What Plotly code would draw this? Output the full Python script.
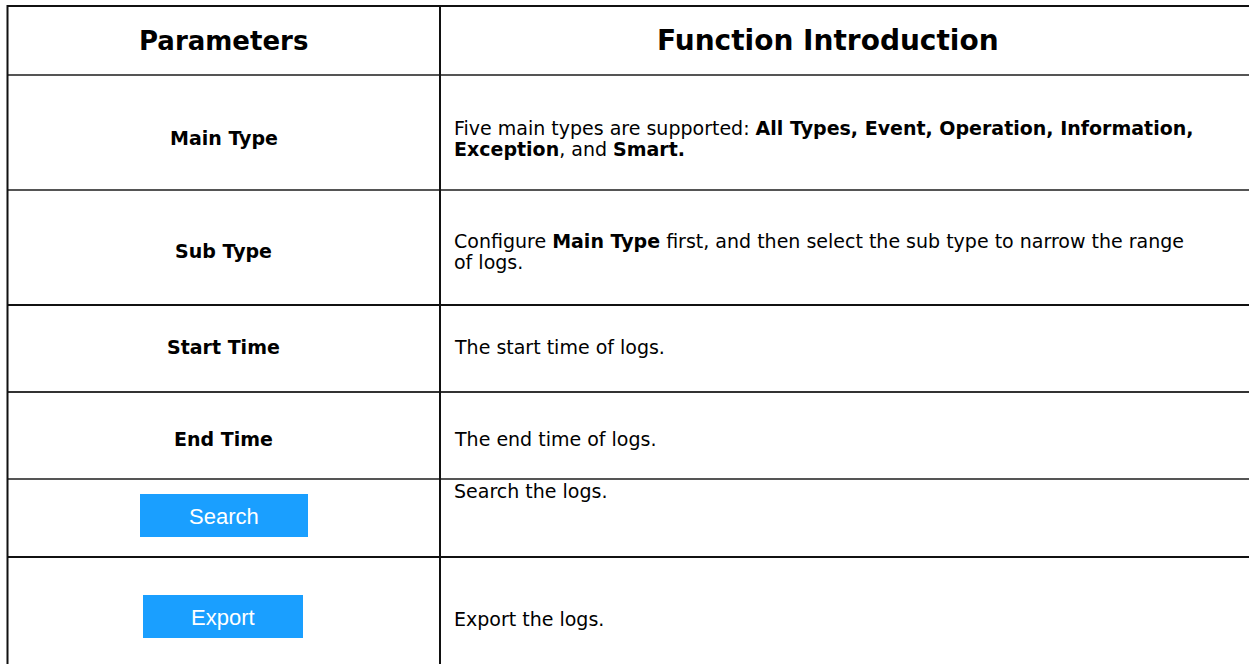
import plotly.graph_objects as go

# ---------------- data ----------------
headers = ["Parameters", "Function Introduction"]
params = ["Main Type", "Sub Type", "Start Time", "End Time", "Search", "Export"]
param_is_button = [False, False, False, False, True, True]
descriptions = [
    "Five main types are supported: <b>All Types, Event, Operation, Information,</b><br><b>Exception</b>, and <b>Smart.</b>",
    "Configure <b>Main Type</b> first, and then select the sub type to narrow the range<br>of logs.",
    "The start time of logs.",
    "The end time of logs.",
    "Search the logs.",
    "Export the logs.",
]

# ---------------- layout / style ----------------
W, H = 1249, 664
FONT = "DejaVu Sans, Verdana, sans-serif"
BTN_FONT = "Liberation Sans, Arial, sans-serif"
x_left, x_mid, x_right = 7.5, 440, 1260
row_lines = [6, 75, 190, 305, 392, 479, 557]
row_line_colors = ["#111", "#555", "#555", "#111", "#333", "#555", "#111"]
label_y = [138, 251, 347, 439, 515, 616]
desc_y = [128, 241, 347, 439, 491, 619]
LINE_GAP = 20.5
button_boxes = {4: (140, 308, 494, 537), 5: (143, 303, 595, 638)}
BLUE = "#1a9fff"

fig = go.Figure()
shapes = []
annotations = []

# borders
for y, c in zip(row_lines, row_line_colors):
    shapes.append(dict(type="line", x0=x_left, x1=x_right, y0=y, y1=y,
                       line=dict(color=c, width=2), layer="above"))
for x in (x_left, x_mid):
    shapes.append(dict(type="line", x0=x, x1=x, y0=row_lines[0] - 1, y1=H + 20,
                       line=dict(color="#111", width=2), layer="above"))

# header
hy = (row_lines[0] + row_lines[1]) / 2
annotations.append(dict(x=(x_left + x_mid) / 2, y=hy, text="<b>%s</b>" % headers[0],
                        showarrow=False, xanchor="center", yanchor="middle",
                        font=dict(family=FONT, size=26, color="#000")))
annotations.append(dict(x=828, y=hy, text="<b>%s</b>" % headers[1],
                        showarrow=False, xanchor="center", yanchor="middle",
                        font=dict(family=FONT, size=28, color="#000")))

for i, (p, d) in enumerate(zip(params, descriptions)):
    if param_is_button[i]:
        x0, x1, y0, y1 = button_boxes[i]
        shapes.append(dict(type="rect", x0=x0, x1=x1, y0=y0, y1=y1,
                           fillcolor=BLUE, line=dict(width=0)))
        annotations.append(dict(x=(x0 + x1) / 2, y=(y0 + y1) / 2 + 1, text=p,
                                showarrow=False, xanchor="center", yanchor="middle",
                                font=dict(family=BTN_FONT, size=22, color="white")))
    else:
        annotations.append(dict(x=(x_left + x_mid) / 2, y=label_y[i], text="<b>%s</b>" % p,
                                showarrow=False, xanchor="center", yanchor="middle",
                                font=dict(family=FONT, size=19, color="#000")))
    for k, line in enumerate(d.split("<br>")):
        annotations.append(dict(x=453, y=desc_y[i] + k * LINE_GAP, text=line, align="left",
                                showarrow=False, xanchor="left", yanchor="middle",
                                xshift=-1, font=dict(family=FONT, size=19, color="#000")))

fig.update_layout(
    width=W, height=H,
    margin=dict(l=0, r=0, t=0, b=0),
    paper_bgcolor="white", plot_bgcolor="white",
    xaxis=dict(range=[0, W], visible=False, fixedrange=True),
    yaxis=dict(range=[H, 0], visible=False, fixedrange=True),
    shapes=shapes, annotations=annotations,
    showlegend=False,
)
fig.write_html("out.html", config=dict(displayModeBar=False),
               post_script="document.body.style.margin='0';document.body.style.overflow='hidden';")
